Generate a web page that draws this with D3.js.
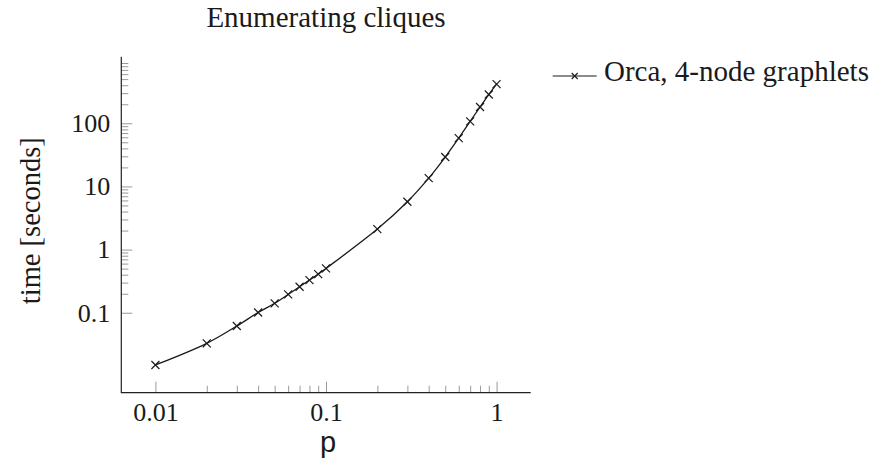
<!DOCTYPE html>
<html>
<head>
<meta charset="utf-8">
<script src="https://cdn.jsdelivr.net/npm/d3@7"></script>
<style>
  html, body { margin: 0; padding: 0; background: #fff; }
  svg { display: block; }
</style>
</head>
<body>
<svg id="chart" width="874" height="461"></svg>
<script>
// ---- data ----
const pValues = [0.01, 0.02, 0.03, 0.04, 0.05, 0.06, 0.07, 0.08, 0.09, 0.1,
                 0.2, 0.3, 0.4, 0.5, 0.6, 0.7, 0.8, 0.9, 1.0];
const timeValues = [0.0149, 0.0328, 0.0616, 0.101, 0.141, 0.195, 0.258, 0.329, 0.409, 0.503,
                    2.11, 5.72, 13.5, 29.2, 58.3, 107, 181, 285, 416];
const seriesName = "Orca, 4-node graphlets";
const xMajorTicks = [0.01, 0.1, 1];
const xTickLabels = ["0.01", "0.1", "1"];
const xMinorTicks = [0.02, 0.03, 0.04, 0.05, 0.06, 0.07, 0.08, 0.09,
                     0.2, 0.3, 0.4, 0.5, 0.6, 0.7, 0.8, 0.9];
const yMajorTicks = [0.1, 1, 10, 100];
const yTickLabels = ["0.1", "1", "10", "100"];
const yMinorTicks = [0.2, 0.3, 0.4, 0.5, 0.6, 0.7, 0.8, 0.9,
                     2, 3, 4, 5, 6, 7, 8, 9,
                     20, 30, 40, 50, 60, 70, 80, 90,
                     200, 300, 400, 500, 600, 700, 800, 900];
const titleText = "Enumerating cliques";
const xLabelText = "p";
const yLabelText = "time [seconds]";

// ---- layout ----
const pL = 121.3, pR = 530.7, pT = 56.7, pB = 392.7;
const serifFam = "'Liberation Serif', 'Times New Roman', serif";
const sansFam = "'Liberation Sans', Arial, sans-serif";
const tickGray = "#9a9a9a";
const ink = "#1a1a1a";

const svg = d3.select("#chart");

const x = d3.scaleLog().domain([Math.pow(10, -2.2), Math.pow(10, 0.2)]).range([pL, pR]);
const y = d3.scaleLog().domain([Math.pow(10, -2.266), Math.pow(10, 3.054)]).range([pB, pT]);

// minor ticks
const xMinor = svg.append("g").attr("transform", `translate(0,${pB})`)
  .call(d3.axisBottom(x).tickValues(xMinorTicks).tickSizeInner(-7).tickSizeOuter(0).tickFormat(""));
const yMinor = svg.append("g").attr("transform", `translate(${pL},0)`)
  .call(d3.axisLeft(y).tickValues(yMinorTicks).tickSizeInner(-7).tickSizeOuter(0).tickFormat(""));

// major ticks
const xMajor = svg.append("g").attr("transform", `translate(0,${pB})`)
  .call(d3.axisBottom(x).tickValues(xMajorTicks).tickSizeInner(-11).tickSizeOuter(0).tickPadding(9.5)
    .tickFormat((d, i) => xTickLabels[i]));
const yMajor = svg.append("g").attr("transform", `translate(${pL},0)`)
  .call(d3.axisLeft(y).tickValues(yMajorTicks).tickSizeInner(-11).tickSizeOuter(0).tickPadding(11)
    .tickFormat((d, i) => yTickLabels[i]));

[xMinor, yMinor, xMajor, yMajor].forEach(g => {
  g.attr("font-family", null).attr("font-size", null);
  g.select(".domain").remove();
  g.selectAll(".tick line").attr("stroke", tickGray).attr("stroke-width", 1);
  g.selectAll(".tick text").attr("fill", ink).style("font-family", serifFam).style("font-size", "26px");
});

// axis lines (left and bottom only)
svg.append("path")
  .attr("d", `M${pL},${pT}V${pB}H${pR}`)
  .attr("fill", "none").attr("stroke", "#222").attr("stroke-width", 1.2);

// series line
const line = d3.line()
  .x((d, i) => x(pValues[i]))
  .y(d => y(d))
  .curve(d3.curveCatmullRom.alpha(0.5));

svg.append("path")
  .datum(timeValues)
  .attr("d", line)
  .attr("fill", "none").attr("stroke", ink).attr("stroke-width", 1.3);

// x markers
const ms = 4;
svg.append("g").selectAll("path.mk").data(timeValues).join("path")
  .attr("class", "mk")
  .attr("d", (d, i) => {
    const cx = x(pValues[i]), cy = y(d);
    return `M${cx - ms},${cy - ms}L${cx + ms},${cy + ms}M${cx - ms},${cy + ms}L${cx + ms},${cy - ms}`;
  })
  .attr("stroke", ink).attr("stroke-width", 1.2).attr("fill", "none");

// title
svg.append("text")
  .attr("x", (pL + pR) / 2).attr("y", 26.7)
  .attr("text-anchor", "middle")
  .style("font-family", serifFam).style("font-size", "29px").attr("fill", ink)
  .text(titleText);

// x label
svg.append("text")
  .attr("x", (pL + pR) / 2 + 2).attr("y", 452)
  .attr("text-anchor", "middle")
  .style("font-family", sansFam).style("font-size", "29px").attr("fill", ink)
  .text(xLabelText);

// y label
svg.append("text")
  .attr("transform", `translate(40,${(pT + pB) / 2 - 4}) rotate(-90)`)
  .attr("text-anchor", "middle")
  .style("font-family", serifFam).style("font-size", "28.5px").attr("fill", ink)
  .text(yLabelText);

// legend
const lg = svg.append("g");
const ly = 76;
lg.append("line").attr("x1", 552.7).attr("x2", 596.7).attr("y1", ly).attr("y2", ly)
  .attr("stroke", ink).attr("stroke-width", 1.2);
const lm = 3, lcx = 574.7;
lg.append("path")
  .attr("d", `M${lcx - lm},${ly - lm}L${lcx + lm},${ly + lm}M${lcx - lm},${ly + lm}L${lcx + lm},${ly - lm}`)
  .attr("stroke", ink).attr("stroke-width", 1.1);
lg.append("text").attr("x", 604).attr("y", 81)
  .style("font-family", serifFam).style("font-size", "29px").attr("fill", ink)
  .text(seriesName);
</script>
</body>
</html>
